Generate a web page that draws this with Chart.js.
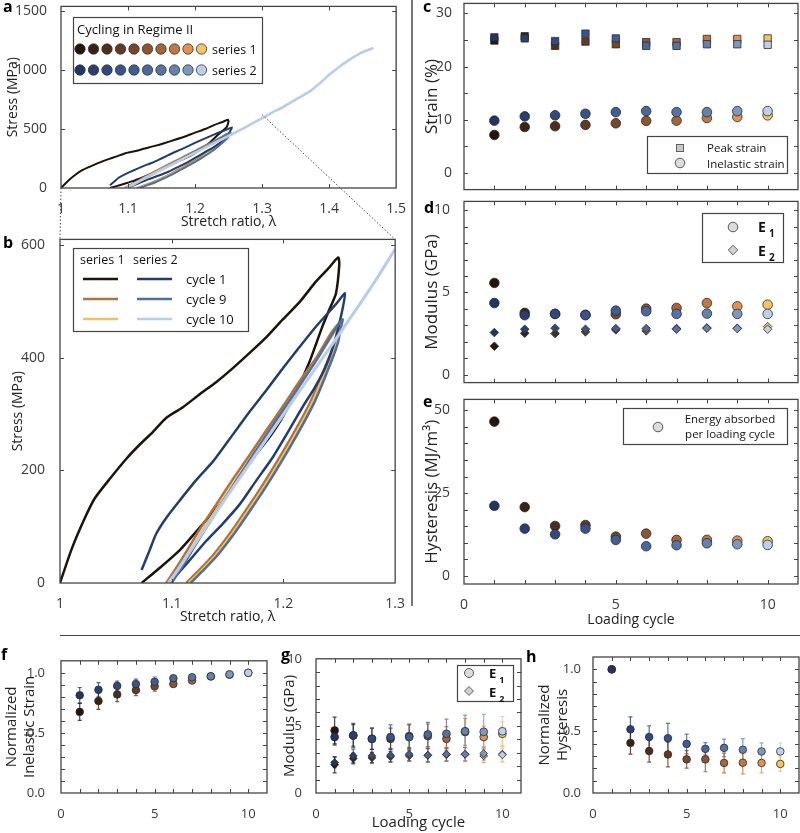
<!DOCTYPE html>
<html>
<head>
<meta charset="utf-8">
<title>Cycling in Regime II</title>
<script src="https://cdn.jsdelivr.net/npm/chart.js@4.4.1/dist/chart.umd.min.js"></script>
<style>
  html, body { margin: 0; padding: 0; background: #fff; overflow: hidden; }
  #fig { position: relative; width: 800px; height: 833px; overflow: hidden; }
  #fig canvas { position: absolute; }
</style>
</head>
<body>
<div id="fig"></div>
<script>
// ---------- values ----------
var cycles = [1, 2, 3, 4, 5, 6, 7, 8, 9, 10];
var s1Colors = ['#24160b', '#3a2313', '#4e2e1a', '#633a21', '#784728', '#8e5530', '#a66539', '#c27844', '#df9352', '#f2c466'];
var s2Colors = ['#1f3666', '#264073', '#2e4a7f', '#36548a', '#3f5f94', '#49699c', '#5574a6', '#6482b0', '#7b98c1', '#bcd0ee'];

// stress-stretch curves [lambda, MPa]
var s1c1Curve = [[1.000, 0], [1.010, 58], [1.021, 110], [1.031, 150], [1.045, 186], [1.060, 222], [1.071, 245], [1.083, 268], [1.095, 293], [1.110, 312], [1.125, 335], [1.140, 357], [1.155, 382], [1.170, 409], [1.185, 437], [1.199, 467], [1.215, 500], [1.229, 535], [1.240, 558], [1.249, 578],
  [1.250, 566], [1.247, 514], [1.241, 485], [1.235, 456], [1.223, 391], [1.211, 338], [1.198, 290], [1.188, 260], [1.176, 230], [1.164, 196], [1.152, 163], [1.140, 133], [1.128, 105], [1.117, 80], [1.107, 58], [1.090, 28], [1.073, 0]];
var s1c9Curve = [[1.095, 0], [1.105, 30], [1.115, 62], [1.125, 95], [1.140, 140], [1.155, 185], [1.170, 228], [1.185, 272], [1.200, 315], [1.215, 360], [1.230, 402], [1.243, 445], [1.251, 464],
  [1.249, 448], [1.246, 426], [1.239, 392], [1.224, 321], [1.205, 252], [1.182, 176], [1.167, 131], [1.152, 88], [1.136, 47], [1.123, 20], [1.113, 0]];
var s1c10Curve = [[1.098, 0], [1.108, 30], [1.118, 62], [1.128, 95], [1.143, 140], [1.158, 185], [1.173, 228], [1.188, 272], [1.203, 315], [1.217, 358], [1.231, 400], [1.244, 440], [1.252, 460],
  [1.250, 444], [1.247, 424], [1.241, 392], [1.226, 321], [1.207, 250], [1.184, 174], [1.169, 130], [1.154, 87], [1.138, 46], [1.125, 19], [1.115, 0]];
var s2c1Curve = [[1.073, 23], [1.080, 57], [1.086, 87], [1.096, 118], [1.107, 146], [1.122, 183], [1.137, 216], [1.149, 248], [1.160, 278], [1.170, 305], [1.185, 343], [1.199, 380], [1.214, 418], [1.229, 455], [1.247, 495], [1.255, 514],
  [1.252, 478], [1.246, 430], [1.238, 385], [1.228, 347], [1.217, 312], [1.204, 268], [1.190, 222], [1.175, 180], [1.161, 140], [1.146, 106], [1.131, 75], [1.115, 38], [1.098, 0]];
var s2c9Curve = [[1.100, 0], [1.109, 28], [1.119, 60], [1.129, 92], [1.143, 136], [1.158, 182], [1.172, 225], [1.187, 270], [1.202, 314], [1.217, 358], [1.231, 400], [1.245, 446], [1.253, 468],
  [1.251, 450], [1.249, 428], [1.243, 394], [1.228, 322], [1.209, 252], [1.186, 176], [1.171, 131], [1.156, 88], [1.140, 47], [1.127, 20], [1.117, 0]];
var s2c10Curve = [[1.097, 0], [1.105, 22], [1.115, 52], [1.130, 97], [1.150, 155], [1.170, 213], [1.190, 270], [1.210, 328], [1.230, 385], [1.250, 442], [1.270, 500], [1.285, 545], [1.300, 593], [1.315, 640], [1.332, 689], [1.352, 755], [1.372, 824], [1.387, 893], [1.401, 964], [1.416, 1030], [1.431, 1090], [1.449, 1150], [1.466, 1188]];
var curveNames = ['cycle 1', 'cycle 9', 'cycle 10'];
var s1LineColors = ['#1e130b', '#b2713d', '#f1c060'];
var s2LineColors = ['#233d6d', '#4e6fa0', '#b8cdeb'];
var zoomLambda = 1.3, zoomStress = 622;

// c: strain (%)
var peakS1 = [24.9, 25.7, 23.9, 24.7, 24.2, 24.6, 24.6, 25.2, 25.2, 25.3];
var peakS2 = [25.5, 25.3, 24.8, 26.2, 25.3, 23.9, 23.9, 24.2, 24.2, 24.1];
var inelS1 = [7.1, 8.6, 8.75, 9.0, 9.3, 9.75, 9.8, 10.3, 10.5, 10.8];
var inelS2 = [9.8, 10.6, 10.8, 11.1, 11.4, 11.6, 11.4, 11.4, 11.6, 11.6];
// d: modulus (GPa)
var e1S1 = [5.58, 3.76, 3.7, 3.65, 3.68, 4.02, 4.06, 4.36, 4.16, 4.26];
var e1S2 = [4.36, 3.62, 3.7, 3.62, 3.9, 3.86, 3.7, 3.72, 3.7, 3.7];
var e2S1 = [1.74, 2.53, 2.51, 2.61, 2.73, 2.67, 2.81, 2.85, 2.83, 2.93];
var e2S2 = [2.57, 2.77, 2.83, 2.77, 2.81, 2.81, 2.77, 2.83, 2.81, 2.77];
// e: hysteresis (MJ/m3)
var hystS1 = [46.6, 20.8, 15.1, 15.4, 11.9, 12.8, 10.9, 10.9, 10.7, 10.5];
var hystS2 = [21.2, 14.3, 12.6, 14.3, 10.9, 9.0, 9.3, 9.9, 9.6, 9.4];
// f: normalized inelastic strain
var nInelS1 = [0.675, 0.765, 0.82, 0.856, 0.888, 0.907, 0.936, 0.97, 0.984, 1.0];
var nInelS2 = [0.813, 0.859, 0.891, 0.907, 0.925, 0.955, 0.963, 0.971, 0.987, 1.0];
var nInelErrS1 = [0.07, 0.07, 0.06, 0.045, 0.04, 0.02, 0.015, 0.01, 0.01, 0];
var nInelErrS2 = [0.065, 0.06, 0.04, 0.04, 0.04, 0.02, 0.015, 0.01, 0.01, 0];
// g: modulus, averaged
var gE1S1 = [4.66, 4.29, 4.04, 4.04, 4.24, 4.24, 4.04, 4.55, 4.17, 4.41];
var gE1S2 = [4.17, 4.29, 4.04, 4.17, 4.17, 4.36, 4.41, 4.6, 4.56, 4.6];
var gE2S1 = [2.1, 2.57, 2.62, 2.7, 2.77, 2.8, 2.85, 2.88, 2.77, 2.9];
var gE2S2 = [2.28, 2.77, 2.77, 2.82, 2.89, 2.82, 2.89, 2.89, 2.94, 2.84];
var gE1ErrS1 = [1.0, 0.8, 0.8, 0.8, 0.9, 0.9, 0.9, 1.0, 0.8, 0.9];
var gE1ErrS2 = [0.6, 0.9, 0.8, 0.9, 0.9, 0.9, 1.1, 1.2, 1.3, 1.1];
var gE2ErrS1 = [0.6, 0.4, 0.4, 0.4, 0.4, 0.5, 0.5, 0.5, 0.5, 0.6];
var gE2ErrS2 = [0.4, 0.5, 0.5, 0.5, 0.5, 0.5, 0.5, 0.5, 0.5, 0.5];
// h: normalized hysteresis
var nHystS1 = [1.0, 0.405, 0.339, 0.312, 0.272, 0.272, 0.243, 0.245, 0.243, 0.235];
var nHystS2 = [1.0, 0.515, 0.453, 0.443, 0.397, 0.357, 0.365, 0.35, 0.336, 0.336];
var nHystErrS1 = [0, 0.09, 0.09, 0.1, 0.07, 0.1, 0.08, 0.09, 0.08, 0.06];
var nHystErrS2 = [0, 0.1, 0.09, 0.12, 0.08, 0.05, 0.07, 0.09, 0.07, 0.07];

var FONT = '"Open Sans", sans-serif';
var fig = document.getElementById('fig');

// ---------- plugins ----------
// inward ticks on all four sides + box
Chart.register({
  id: 'frameTicks',
  afterDraw: function (chart) {
    var f = chart.canvas.frame;
    if (!f) return;
    var ctx = chart.ctx, a = chart.chartArea, sx = chart.scales.x, sy = chart.scales.y, len = 4;
    ctx.save();
    ctx.strokeStyle = '#444';
    ctx.lineWidth = 1;
    ctx.beginPath();
    f.x.forEach(function (v) {
      var px = Math.round(sx.getPixelForValue(v)) + 0.5;
      ctx.moveTo(px, a.bottom); ctx.lineTo(px, a.bottom - len);
      ctx.moveTo(px, a.top); ctx.lineTo(px, a.top + len);
    });
    f.y.forEach(function (v) {
      var py = Math.round(sy.getPixelForValue(v)) + 0.5;
      ctx.moveTo(a.left, py); ctx.lineTo(a.left + len, py);
      ctx.moveTo(a.right, py); ctx.lineTo(a.right - len, py);
    });
    ctx.stroke();
    ctx.lineWidth = 1.3;
    ctx.strokeRect(a.left, a.top, a.right - a.left, a.bottom - a.top);
    ctx.restore();
  }
});

// vertical error bars, behind the markers
Chart.register({
  id: 'errorBars',
  beforeDatasetsDraw: function (chart) {
    var ctx = chart.ctx, sx = chart.scales.x, sy = chart.scales.y;
    ctx.save();
    ctx.lineWidth = 1.2;
    ctx.globalAlpha = 0.8;
    chart.data.datasets.forEach(function (ds) {
      if (!ds.errors) return;
      ds.data.forEach(function (p, i) {
        var e = ds.errors[i];
        if (!e) return;
        var px = sx.getPixelForValue(p.x);
        var y1 = sy.getPixelForValue(p.y - e), y2 = sy.getPixelForValue(p.y + e);
        ctx.strokeStyle = ds.pointBackgroundColor[i];
        ctx.beginPath();
        ctx.moveTo(px, y1); ctx.lineTo(px, y2);
        ctx.moveTo(px - 2, y1); ctx.lineTo(px + 2, y1);
        ctx.moveTo(px - 2, y2); ctx.lineTo(px + 2, y2);
        ctx.stroke();
      });
    });
    ctx.restore();
  }
});

// ---------- helpers ----------
function pts(ys) {
  return cycles.map(function (c, i) { return { x: c, y: ys[i] }; });
}
function markers(ys, colors, style, r, errs) {
  return {
    data: pts(ys), pointStyle: style, pointRadius: r,
    pointBackgroundColor: colors, pointBorderColor: '#2b2b2b', pointBorderWidth: 0.8,
    showLine: false, errors: errs
  };
}
function curve(data, color, w) {
  return { data: data, showLine: true, pointRadius: 0, borderColor: color, borderWidth: w, tension: 0.2, fill: false };
}
function axis(o) {
  return {
    type: 'linear', position: o.pos, min: o.min, max: o.max,
    grid: { display: false }, border: { display: false },
    ticks: {
      display: !!o.labels, color: '#3a3a3a', padding: o.pad,
      font: { family: FONT, size: o.fs || 14 }, maxRotation: 0, autoSkip: false,
      callback: o.fmt || function (v) { return String(v); }
    },
    afterBuildTicks: function (s) { s.ticks = (o.labels || []).map(function (v) { return { value: v }; }); },
    afterFit: function (s) { if (o.pos === 'left') s.width = o.size; else s.height = o.size; },
    title: o.title ? { display: true, text: o.title, color: '#222', font: { family: FONT, size: o.tfs || 14 }, padding: o.tpad } : { display: false }
  };
}
// panel p.area = [left, top, right, bottom] of the plot area, page pixels
function panel(p) {
  var T = 12, R = 14;
  var cv = document.createElement('canvas');
  var left = p.area[0] - p.W, top = p.area[1] - T;
  cv.width = p.W + (p.area[2] - p.area[0]) + R;
  cv.height = T + (p.area[3] - p.area[1]) + p.H;
  cv.style.left = left + 'px';
  cv.style.top = top + 'px';
  cv.frame = p.frame;
  fig.appendChild(cv);
  var extra = (p.plugins || []).map(function (fn, k) {
    return {
      id: 'page' + k,
      beforeDatasetsDraw: function (chart) { if (fn.before) { chart.ctx.save(); chart.ctx.translate(-left, -top); fn.before(chart.ctx, chart); chart.ctx.restore(); } },
      afterDraw: function (chart) { if (fn.after) { chart.ctx.save(); chart.ctx.translate(-left, -top); fn.after(chart.ctx, chart); chart.ctx.restore(); } }
    };
  });
  var chart = new Chart(cv, {
    type: 'scatter',
    data: { datasets: p.datasets },
    options: {
      responsive: false, animation: false, events: [],
      layout: { padding: { top: T, right: R, left: 0, bottom: 0 } },
      plugins: { legend: { display: false }, tooltip: { enabled: false } },
      scales: { x: p.x, y: p.y }
    },
    plugins: extra
  });
  chart.pageLeft = left;
  chart.pageTop = top;
  return chart;
}
function box(ctx, x1, y1, x2, y2) {
  ctx.fillStyle = '#fff';
  ctx.fillRect(x1, y1, x2 - x1, y2 - y1);
  ctx.strokeStyle = '#444';
  ctx.lineWidth = 1.2;
  ctx.strokeRect(x1 + 0.5, y1 + 0.5, x2 - x1, y2 - y1);
}
function dot(ctx, x, y, r, fill) {
  ctx.beginPath();
  ctx.arc(x, y, r, 0, Math.PI * 2);
  ctx.fillStyle = fill; ctx.fill();
  ctx.strokeStyle = '#333'; ctx.lineWidth = 0.8; ctx.stroke();
}
function square(ctx, x, y, h, fill) {
  ctx.fillStyle = fill; ctx.fillRect(x - h, y - h, 2 * h, 2 * h);
  ctx.strokeStyle = '#444'; ctx.lineWidth = 0.8; ctx.strokeRect(x - h, y - h, 2 * h, 2 * h);
}
function diamond(ctx, x, y, r, fill) {
  ctx.beginPath();
  ctx.moveTo(x, y - r); ctx.lineTo(x + r, y); ctx.lineTo(x, y + r); ctx.lineTo(x - r, y); ctx.closePath();
  ctx.fillStyle = fill; ctx.fill();
  ctx.strokeStyle = '#444'; ctx.lineWidth = 0.8; ctx.stroke();
}
function subE(ctx, x, y, n, s) {
  ctx.fillStyle = '#111';
  ctx.textAlign = 'left';
  ctx.font = 'bold ' + s + 'px ' + FONT;
  ctx.fillText('E', x, y);
  ctx.font = 'bold ' + Math.round(s * 0.7) + 'px ' + FONT;
  ctx.fillText(n, x + s * 0.78, y + s * 0.35);
}
function txt(ctx, s, x, y, size, align) {
  ctx.fillStyle = '#111';
  ctx.font = size + 'px ' + FONT;
  ctx.textAlign = align || 'left';
  ctx.fillText(s, x, y);
}
var cycTicks = [1, 2, 3, 4, 5, 6, 7, 8, 9, 10];
function fmt1(v) { return v.toFixed(1); }

// ---------- a ----------
var allCurves = function (w) {
  return [
    curve(s2c10Curve, s2LineColors[2], w + 0.6),
    curve(s2c9Curve, s2LineColors[1], w),
    curve(s2c1Curve, s2LineColors[0], w),
    curve(s1c10Curve, s1LineColors[2], w),
    curve(s1c9Curve, s1LineColors[1], w),
    curve(s1c1Curve, s1LineColors[0], w)
  ];
};
var chartA = panel({
  area: [61, 4, 397, 188], W: 61, H: 44,
  frame: { x: [1.1, 1.2, 1.3, 1.4], y: [500, 1000, 1500] },
  x: axis({ pos: 'bottom', min: 1, max: 1.5, labels: [1, 1.1, 1.2, 1.3, 1.4, 1.5], pad: 5, size: 44, title: 'Stretch ratio, \u03bb', tpad: { top: 0, bottom: 2 } }),
  y: axis({ pos: 'left', min: 0, max: 1540, labels: [0, 500, 1000, 1500], pad: 6, size: 61, title: 'Stress (MPa)', tfs: 14, tpad: { top: 5, bottom: 0 } }),
  datasets: allCurves(2),
  plugins: [{
    before: function (ctx, chart) {
      var sx = chart.scales.x, sy = chart.scales.y, l = chart.pageLeft, t = chart.pageTop;
      var x1 = sx.getPixelForValue(1) + l, x2 = sx.getPixelForValue(zoomLambda) + l;
      var y1 = sy.getPixelForValue(zoomStress) + t, y2 = sy.getPixelForValue(0) + t;
      ctx.fillStyle = '#f1f1f1';
      ctx.fillRect(x1, y1, x2 - x1, y2 - y1);
      ctx.strokeStyle = '#555'; ctx.lineWidth = 1.2;
      ctx.strokeRect(x1, y1, x2 - x1, y2 - y1);
    },
    after: function (ctx) {
      box(ctx, 73, 17, 262, 83);
      txt(ctx, 'Cycling in Regime II', 77, 34, 13);
      for (var i = 0; i < 10; i++) {
        dot(ctx, 80 + i * 13.5, 49, 5.2, s1Colors[i]);
        dot(ctx, 80 + i * 13.5, 70, 5.2, s2Colors[i]);
      }
      txt(ctx, 'series 1', 212, 54, 12.5);
      txt(ctx, 'series 2', 212, 75, 12.5);
    }
  }]
});

// ---------- b ----------
var chartB = panel({
  area: [60, 236, 396, 583], W: 60, H: 44,
  frame: { x: [1.1, 1.2], y: [200, 400, 600] },
  x: axis({ pos: 'bottom', min: 1, max: 1.3, labels: [1, 1.1, 1.2, 1.3], pad: 5, size: 44, title: 'Stretch ratio, \u03bb', tpad: { top: 0, bottom: 2 } }),
  y: axis({ pos: 'left', min: 0, max: 610, labels: [0, 200, 400, 600], pad: 7, size: 60, title: 'Stress (MPa)', tpad: { top: 10, bottom: 0 } }),
  datasets: allCurves(2.5),
  plugins: [{
    after: function (ctx) {
      box(ctx, 73, 248, 248, 331);
      txt(ctx, 'series 1', 80, 264, 12.5);
      txt(ctx, 'series 2', 133, 264, 12.5);
      var rows = [279, 299, 319];
      ctx.lineWidth = 2.5;
      for (var i = 0; i < 3; i++) {
        ctx.strokeStyle = s1LineColors[i];
        ctx.beginPath(); ctx.moveTo(83, rows[i]); ctx.lineTo(118, rows[i]); ctx.stroke();
        ctx.strokeStyle = s2LineColors[i];
        ctx.beginPath(); ctx.moveTo(137, rows[i]); ctx.lineTo(172, rows[i]); ctx.stroke();
        txt(ctx, curveNames[i], 186, rows[i] + 5, 13);
      }
    }
  }]
});

// ---------- c ----------
panel({
  area: [464, 3, 798, 190], W: 44, H: 12,
  frame: { x: cycTicks, y: [0, 5, 10, 15, 20, 25, 30] },
  x: axis({ pos: 'bottom', min: 0, max: 11, size: 12 }),
  y: axis({ pos: 'left', min: -3.2, max: 31.9, labels: [0, 10, 20, 30], pad: 4, size: 44, title: 'Strain (%)', tfs: 17, tpad: { top: 1.5, bottom: 0 } }),
  datasets: [
    markers(peakS2, s2Colors, 'rect', 5.2),
    markers(inelS2, s2Colors, 'circle', 4.8),
    markers(peakS1, s1Colors, 'rect', 5.2),
    markers(inelS1, s1Colors, 'circle', 4.8)
  ],
  plugins: [{
    after: function (ctx) {
      box(ctx, 647, 136, 787, 173);
      square(ctx, 680, 148, 3.6, '#c8c8c8');
      dot(ctx, 680, 163, 4.8, '#dcdcdc');
      txt(ctx, 'Peak strain', 707, 152, 11.5);
      txt(ctx, 'Inelastic strain', 707, 168, 11.5);
    }
  }]
});

// ---------- d ----------
panel({
  area: [464, 199, 798, 385], W: 44, H: 12,
  frame: { x: cycTicks, y: [0, 1, 2, 3, 4, 5, 6, 7, 8, 9, 10] },
  x: axis({ pos: 'bottom', min: 0, max: 11, size: 12 }),
  y: axis({ pos: 'left', min: -0.47, max: 10.53, labels: [0, 5, 10], pad: 6, size: 44, title: 'Modulus (GPa)', tfs: 17, tpad: { top: 1.5, bottom: 0 } }),
  datasets: [
    markers(e1S2, s2Colors, 'circle', 4.8),
    markers(e2S2, s2Colors, 'rectRot', 4.3),
    markers(e1S1, s1Colors, 'circle', 4.8),
    markers(e2S1, s1Colors, 'rectRot', 4.3)
  ],
  plugins: [{
    after: function (ctx) {
      box(ctx, 702, 213, 783, 262);
      dot(ctx, 733, 227, 4.8, '#dcdcdc');
      diamond(ctx, 733, 250, 4.8, '#d0d0d0');
      subE(ctx, 758, 232, '1', 14);
      subE(ctx, 758, 256, '2', 14);
    }
  }]
});

// ---------- e ----------
panel({
  area: [464, 397, 798, 584], W: 44, H: 46,
  frame: { x: cycTicks, y: [0, 5, 10, 15, 20, 25, 30, 35, 40, 45, 50] },
  x: axis({ pos: 'bottom', min: 0, max: 11, labels: [0, 5, 10], pad: 5, size: 46, title: 'Loading cycle', tpad: { top: 0, bottom: 2 } }),
  y: axis({ pos: 'left', min: -2.4, max: 53.3, labels: [0, 25, 50], pad: 6, size: 44, title: 'Hysteresis (MJ/m\u00b3)', tfs: 17, tpad: { top: 1.5, bottom: 0 } }),
  datasets: [
    markers(hystS2, s2Colors, 'circle', 4.8),
    markers(hystS1, s1Colors, 'circle', 4.8)
  ],
  plugins: [{
    after: function (ctx) {
      box(ctx, 623, 408, 787, 444);
      dot(ctx, 658, 427, 4.8, '#dcdcdc');
      txt(ctx, 'Energy absorbed', 730, 423, 11.5, 'center');
      txt(ctx, 'per loading cycle', 730, 438, 11.5, 'center');
    }
  }]
});

// ---------- f ----------
var tenths = [0.1, 0.2, 0.3, 0.4, 0.5, 0.6, 0.7, 0.8, 0.9, 1.0];
panel({
  area: [61, 657, 267, 793], W: 61, H: 30,
  frame: { x: cycTicks, y: tenths },
  x: axis({ pos: 'bottom', min: 0, max: 11, labels: [0, 5, 10], pad: 5, size: 30, fs: 13 }),
  y: axis({ pos: 'left', min: 0, max: 1.1, labels: [0, 0.5, 1.0], fmt: fmt1, pad: 8, size: 61, fs: 13, title: ['Normalized', 'Inelastic Strain'], tfs: 15, tpad: { top: 3, bottom: 0 } }),
  datasets: [
    markers(nInelS2, s2Colors, 'circle', 3.8, nInelErrS2),
    markers(nInelS1, s1Colors, 'circle', 3.8, nInelErrS1)
  ]
});

// ---------- g ----------
panel({
  area: [316, 657, 521, 793], W: 46, H: 42,
  frame: { x: cycTicks, y: [1, 2, 3, 4, 5, 6, 7, 8, 9] },
  x: axis({ pos: 'bottom', min: 0, max: 11, labels: [0, 5, 10], pad: 5, size: 42, fs: 13, title: 'Loading cycle', tfs: 15, tpad: { top: 0, bottom: 3 } }),
  y: axis({ pos: 'left', min: 0, max: 10, labels: [0, 5, 10], pad: 6, size: 46, fs: 13, title: 'Modulus (GPa)', tfs: 15, tpad: { top: 11, bottom: 0 } }),
  datasets: [
    markers(gE1S2, s2Colors, 'circle', 3.9, gE1ErrS2),
    markers(gE2S2, s2Colors, 'rectRot', 3.9, gE2ErrS2),
    markers(gE1S1, s1Colors, 'circle', 3.9, gE1ErrS1),
    markers(gE2S1, s1Colors, 'rectRot', 3.9, gE2ErrS1)
  ],
  plugins: [{
    after: function (ctx) {
      box(ctx, 457, 665, 513, 701);
      dot(ctx, 469, 673, 4.5, '#dcdcdc');
      diamond(ctx, 469, 691, 4.5, '#d0d0d0');
      subE(ctx, 489, 678, '1', 13);
      subE(ctx, 489, 697, '2', 13);
    }
  }]
});

// ---------- h ----------
panel({
  area: [593, 657, 799, 793], W: 66, H: 30,
  frame: { x: cycTicks, y: tenths },
  x: axis({ pos: 'bottom', min: 0, max: 11, labels: [0, 5, 10], pad: 5, size: 30, fs: 13 }),
  y: axis({ pos: 'left', min: 0, max: 1.1, labels: [0, 0.5, 1.0], fmt: fmt1, pad: 4, size: 66, fs: 13, title: ['Normalized', 'Hysteresis'], tfs: 15, tpad: { top: 9, bottom: 0 } }),
  datasets: [
    markers(nHystS2, s2Colors, 'circle', 3.8, nHystErrS2),
    markers(nHystS1, s1Colors, 'circle', 3.8, nHystErrS1)
  ]
});

// ---------- overlay: connectors, separators, panel letters ----------
var ov = document.createElement('canvas');
ov.width = 800; ov.height = 833;
ov.style.left = '0px'; ov.style.top = '0px';
fig.appendChild(ov);
var oc = ov.getContext('2d');
oc.strokeStyle = '#444';
oc.lineWidth = 1;
oc.setLineDash([1.5, 2]);
var aX = chartA.scales.x, aY = chartA.scales.y;
oc.beginPath();
oc.moveTo(aX.getPixelForValue(1) + chartA.pageLeft, aY.getPixelForValue(0) + chartA.pageTop);
oc.lineTo(chartB.chartArea.left + chartB.pageLeft, chartB.chartArea.top + chartB.pageTop);
oc.moveTo(aX.getPixelForValue(zoomLambda) + chartA.pageLeft, aY.getPixelForValue(zoomStress) + chartA.pageTop);
oc.lineTo(chartB.chartArea.right + chartB.pageLeft, chartB.chartArea.top + chartB.pageTop);
oc.stroke();
oc.setLineDash([]);
oc.strokeStyle = '#777';
oc.lineWidth = 2;
oc.beginPath(); oc.moveTo(412, 0); oc.lineTo(412, 606); oc.stroke();
oc.strokeStyle = '#444';
oc.lineWidth = 1.2;
oc.beginPath(); oc.moveTo(60, 635.5); oc.lineTo(800, 635.5); oc.stroke();
oc.fillStyle = '#000';
oc.font = 'bold 16px ' + FONT;
[['a', 3, 12], ['b', 3, 248], ['c', 423, 12], ['d', 424, 213], ['e', 423, 407], ['f', 1, 660], ['g', 281, 660], ['h', 526, 662]].forEach(function (l) {
  oc.fillText(l[0], l[1], l[2]);
});
</script>
</body>
</html>
